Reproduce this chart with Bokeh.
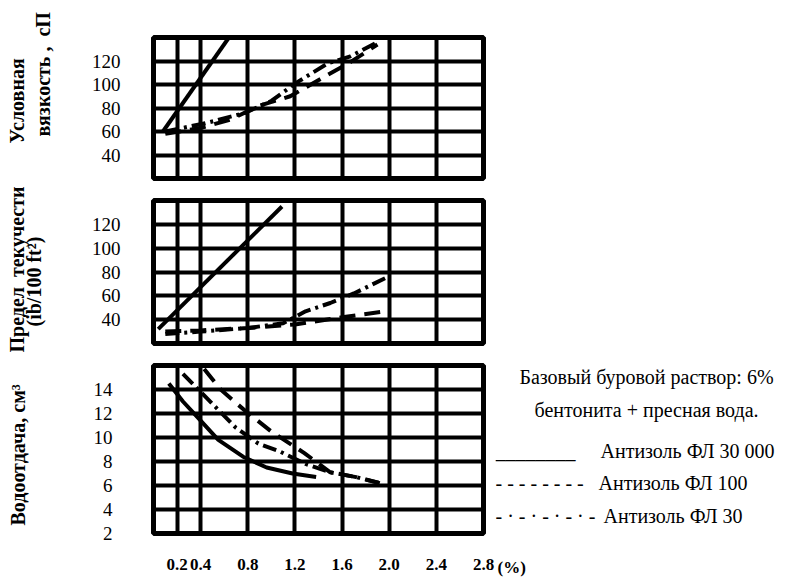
from math import pi
from bokeh.plotting import figure
from bokeh.models import Range1d, FixedTicker, NumeralTickFormatter
from bokeh.layouts import column, row
from bokeh.core.properties import value
from bokeh.embed import file_html
from bokeh.resources import INLINE

SERIF = "Liberation Serif"

# ---- axes / grid ----
x_grid = [0.2, 0.4, 0.8, 1.2, 1.6, 2.0, 2.4]
x_ticks = [0.2, 0.4, 0.8, 1.2, 1.6, 2.0, 2.4, 2.8]

visc_grid = [40, 60, 80, 100, 120]
visc_ticks = [40, 60, 80, 100, 120]
yp_grid = [40, 60, 80, 100, 120]
yp_ticks = [40, 60, 80, 100, 120]
fl_grid = [4, 6, 8, 10, 12, 14]
fl_ticks = [2, 4, 6, 8, 10, 12, 14]

# ---- panel 1: conditional viscosity, cP ----
visc_x_30000 = [0.08, 0.64]
visc_30000 = [60, 140]
visc_x_100 = [0.1, 0.4, 0.65, 0.9, 1.16, 1.44, 1.67, 1.9]
visc_100 = [58, 63, 70, 82, 90, 106, 119, 134]
visc_x_30 = [0.1, 0.44, 0.78, 1.0, 1.22, 1.48, 1.67, 1.9]
visc_30 = [60, 67, 76, 86, 102, 118, 124, 136]

# ---- panel 2: yield point ----
yp_x_30000 = [0.04, 1.09]
yp_30000 = [32, 135]
yp_x_100 = [0.1, 0.4, 0.8, 1.2, 1.6, 1.97]
yp_100 = [30, 31, 33, 36, 42, 47]
yp_x_30 = [0.1, 0.4, 0.8, 1.1, 1.29, 1.5, 1.7, 1.97]
yp_30 = [28, 30, 33, 37, 47, 54, 62, 75]

# ---- panel 3: fluid loss, cm3 ----
fl_x_30000 = [0.13, 0.25, 0.4, 0.55, 0.76, 0.96, 1.18, 1.38]
fl_30000 = [14.5, 13.0, 11.4, 9.8, 8.4, 7.5, 7.0, 6.7]
fl_x_100 = [0.43, 0.57, 0.78, 1.0, 1.28, 1.5, 1.72, 1.92]
fl_100 = [15.7, 14.0, 12.2, 10.5, 8.7, 7.1, 6.7, 6.2]
fl_x_30 = [0.25, 0.44, 0.7, 0.89, 1.08, 1.29, 1.5, 1.72, 1.92]
fl_30 = [15.3, 13.4, 10.8, 9.5, 8.8, 7.8, 7.1, 6.7, 6.2]

# ---- texts ----
title_lines = ["Условная", "вязкость ,\u00a0\u00a0сП", "Предел\u00a0 текучести",
               "(ib/100 ft²)", "Водоотдача, см³"]
legend_header = ["Базовый буровой раствор: 6%", "бентонита + пресная вода."]
legend_samples = ["________", "- - - - - - - -", "- · - · - · - · -"]
legend_names = ["Антизоль ФЛ 30 000", "Антизоль ФЛ 100", "Антизоль ФЛ 30"]
unit_label = ["(%)"]

DASH = "16 9"
DASHDOT = "14 5 3 5"
LW = 4
H = 579


def make_panel(y_lo, y_hi, y_grid, y_ticks, frame_h, top, bottom, standoff, with_x):
    p = figure(frame_width=330, frame_height=frame_h,
               x_range=Range1d(0, 2.8), y_range=Range1d(y_lo, y_hi),
               x_axis_location="below" if with_x else None,
               toolbar_location=None, output_backend="svg",
               min_border_left=78, min_border_right=12,
               min_border_top=top, min_border_bottom=bottom)
    p.background_fill_color = "white"
    p.border_fill_color = "white"
    p.outline_line_color = "black"
    p.outline_line_width = 5
    p.xgrid.ticker = FixedTicker(ticks=x_grid)
    p.ygrid.ticker = FixedTicker(ticks=y_grid)
    for g in (p.xgrid[0], p.ygrid[0]):
        g.grid_line_color = "black"
        g.grid_line_width = 4
    ax = p.yaxis[0]
    ax.ticker = FixedTicker(ticks=y_ticks)
    ax.axis_line_color = None
    ax.major_tick_line_color = None
    ax.minor_tick_line_color = None
    ax.major_tick_out = 0
    ax.major_tick_in = 0
    ax.major_label_standoff = standoff
    ax.major_label_text_font = SERIF
    ax.major_label_text_font_size = "19px"
    ax.major_label_text_color = "black"
    if with_x:
        xa = p.xaxis[0]
        xa.ticker = FixedTicker(ticks=x_ticks)
        xa.formatter = NumeralTickFormatter(format="0.0")
        xa.axis_line_color = None
        xa.major_tick_line_color = None
        xa.minor_tick_line_color = None
        xa.major_tick_out = 0
        xa.major_tick_in = 0
        xa.major_label_standoff = 25
        xa.major_label_text_font = SERIF
        xa.major_label_text_font_style = "bold"
        xa.major_label_text_font_size = "17px"
        xa.major_label_text_color = "black"
    return p


def add_series(p, xs30000, ys30000, xs100, ys100, xs30, ys30):
    p.line(xs30000, ys30000, line_color="black", line_width=LW)
    p.line(xs100, ys100, line_color="black", line_width=LW, line_dash=DASH)
    p.line(xs30, ys30, line_color="black", line_width=LW, line_dash=DASHDOT)


def text_fig(x0, x1):
    f = figure(frame_width=x1 - x0, frame_height=H, x_range=Range1d(x0, x1),
               y_range=Range1d(0, H), x_axis_location=None, y_axis_location=None,
               toolbar_location=None, output_backend="svg", min_border=0)
    f.xgrid.visible = False
    f.ygrid.visible = False
    f.outline_line_color = None
    f.background_fill_color = "white"
    f.border_fill_color = "white"
    return f


p1 = make_panel(20, 140, visc_grid, visc_ticks, 141, 37, 11, 33, False)
add_series(p1, visc_x_30000, visc_30000, visc_x_100, visc_100, visc_x_30, visc_30)

p2 = make_panel(20, 140, yp_grid, yp_ticks, 143, 11, 11, 33, False)
add_series(p2, yp_x_30000, yp_30000, yp_x_100, yp_100, yp_x_30, yp_30)

p3 = make_panel(2, 16, fl_grid, fl_ticks, 168, 11, 46, 41, True)
add_series(p3, fl_x_30000, fl_30000, fl_x_100, fl_100, fl_x_30, fl_30)

# left strip: rotated axis titles (y measured upward from page bottom H)
left = text_fig(0, 75)
left.text(x=[16.5, 42.5, 16.5, 33.5, 17.5], y=[H - 143, H - 136, H - 352, H - 326, H - 525],
          text=title_lines, angle=pi / 2, text_align="left", text_baseline="alphabetic",
          text_font=value(SERIF), text_font_style="bold", text_font_size="20px",
          text_color="black")

# right strip: "(%)" and the legend block
right = text_fig(495, 787)
right.text(x=[497], y=[H - 557], text=unit_label, text_align="left", text_baseline="top",
           text_font=value(SERIF), text_font_style="bold", text_font_size="17px",
           text_color="black")
right.text(x=[646, 646], y=[H - 376, H - 409], text=legend_header,
           text_align="center", text_baseline="middle",
           text_font=value(SERIF), text_font_size="20px", text_color="black")
right.text(x=[495, 495, 495], y=[H - 450, H - 482, H - 515], text=legend_samples,
           text_align="left", text_baseline="alphabetic",
           text_font=value(SERIF), text_font_size="20px", text_color="black")
right.text(x=[600, 598, 603], y=[H - 450, H - 482, H - 515], text=legend_names,
           text_align="left", text_baseline="alphabetic",
           text_font=value(SERIF), text_font_size="20px", text_color="black")

layout = row(left, column(p1, p2, p3, spacing=0), right, spacing=0)
open("out.html", "w").write(file_html(layout, INLINE))
